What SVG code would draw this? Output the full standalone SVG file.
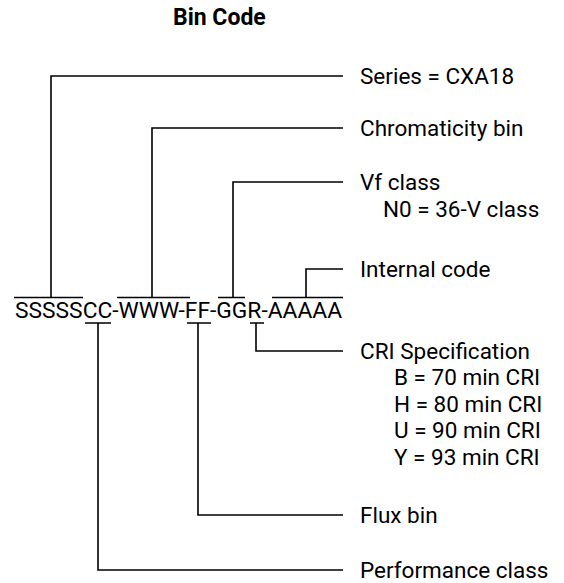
<svg xmlns="http://www.w3.org/2000/svg" width="564" height="583" viewBox="0 0 564 583">
<style>
text{font-family:Roboto,"Liberation Sans",sans-serif;fill:#000}
.t{font-size:23px;font-weight:bold}
.c{font-size:22.7px}
.l{font-size:22.5px}
.k{fill:none;stroke:#000;stroke-width:1.6}
</style>
<rect width="564" height="583" fill="#fff"/>
<text class="t" x="173" y="25">Bin Code</text>
<g id="code"><text class="c" x="15" y="318" textLength="327" lengthAdjust="spacingAndGlyphs">SSSSSCC-WWW-FF-GGR-AAAAA</text></g>
<g id="connectors" class="k">
<path d="M14 297.5H83M51 297.5V76H343"/>
<path d="M117 297.5H190M152 297.5V128H343"/>
<path d="M218 297.5H245M233 297.5V182H343"/>
<path d="M272 297.5H343M306 297.5V269H343"/>
<path d="M85 323H111M98 323V570H343"/>
<path d="M187 323H211M198 323V515H343"/>
<path d="M250 323H264M256 323V351H343"/>
</g>
<g id="series"><text class="l" x="360" y="84">Series = CXA18</text></g>
<g id="chroma"><text class="l" x="360" y="136">Chromaticity bin</text></g>
<g id="vf"><text class="l" x="360" y="190">Vf class</text><text class="l" x="383" y="217">N0 = 36-V class</text></g>
<g id="internal"><text class="l" x="360" y="277">Internal code</text></g>
<g id="cri"><text class="l" x="360" y="359">CRI Specification</text>
<text class="l" x="394" y="385">B = 70 min CRI</text>
<text class="l" x="394" y="411.5">H = 80 min CRI</text>
<text class="l" x="394" y="438">U = 90 min CRI</text>
<text class="l" x="394" y="464.5">Y = 93 min CRI</text></g>
<g id="flux"><text class="l" x="360" y="523">Flux bin</text></g>
<g id="perf"><text class="l" x="360" y="578">Performance class</text></g>
</svg>
